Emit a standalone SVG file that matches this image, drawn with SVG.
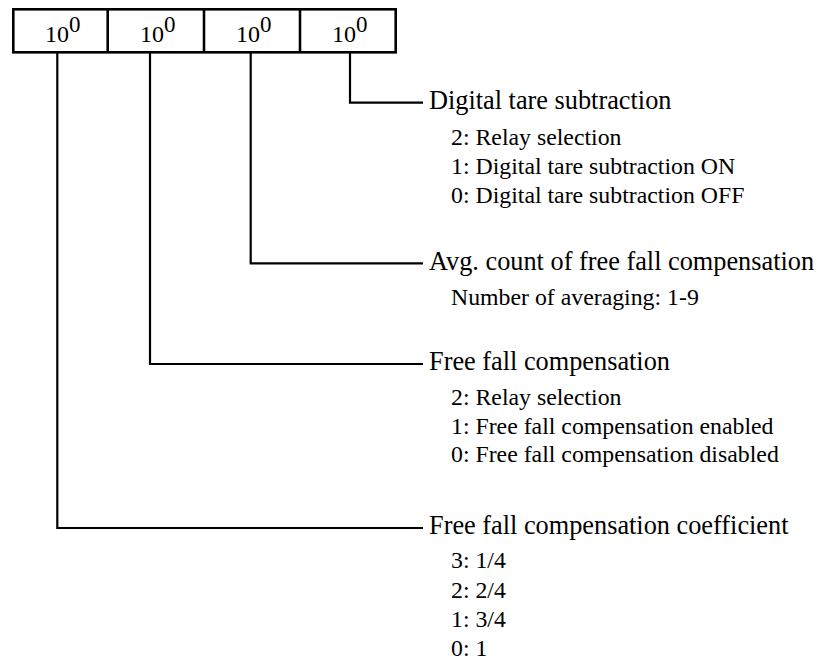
<svg xmlns="http://www.w3.org/2000/svg" width="825" height="662" viewBox="0 0 825 662">
<style>
text{font-family:"Liberation Serif","Times New Roman",serif;fill:#000}
.h{font-size:26.3px}
.s{font-size:23.8px}
.d{font-size:24px}
.sup{font-size:23px}
.ln{fill:none;stroke:#000;stroke-width:2.2}
.bx{fill:#fff;stroke:#000;stroke-width:2.6}
</style>
<rect width="825" height="662" fill="#fff"/>
<g id="register">
<rect class="bx" x="13.3" y="9.3" width="382.4" height="43"/>
<line class="bx" x1="107.7" y1="9.3" x2="107.7" y2="52.3"/>
<line class="bx" x1="204" y1="9.3" x2="204" y2="52.3"/>
<line class="bx" x1="300" y1="9.3" x2="300" y2="52.3"/>
<text class="d" x="45" y="41.7">10<tspan class="sup" dy="-9.5">0</tspan></text>
<text class="d" x="140" y="41.7">10<tspan class="sup" dy="-9.5">0</tspan></text>
<text class="d" x="236" y="41.7">10<tspan class="sup" dy="-9.5">0</tspan></text>
<text class="d" x="332" y="41.7">10<tspan class="sup" dy="-9.5">0</tspan></text>
</g>
<g id="connectors">
<polyline class="ln" points="350,52.3 350,102.7 423,102.7"/>
<polyline class="ln" points="250.7,52.3 250.7,263.3 423,263.3"/>
<polyline class="ln" points="150,52.3 150,364 423,364"/>
<polyline class="ln" points="57.3,52.3 57.3,528 423,528"/>
</g>
<g id="digital-tare">
<text class="h" x="429" y="109.3">Digital tare subtraction</text>
<text class="s" x="451" y="145">2: Relay selection</text>
<text class="s" x="451" y="174">1: Digital tare subtraction ON</text>
<text class="s" x="451" y="203">0: Digital tare subtraction OFF</text>
</g>
<g id="avg-count">
<text class="h" x="429" y="270">Avg. count of free fall compensation</text>
<text class="s" x="451" y="305">Number of averaging: 1-9</text>
</g>
<g id="free-fall">
<text class="h" x="429" y="370">Free fall compensation</text>
<text class="s" x="451" y="405">2: Relay selection</text>
<text class="s" x="451" y="433.5">1: Free fall compensation enabled</text>
<text class="s" x="451" y="462">0: Free fall compensation disabled</text>
</g>
<g id="coefficient">
<text class="h" x="429" y="534">Free fall compensation coefficient</text>
<text class="s" x="451" y="568">3: 1/4</text>
<text class="s" x="451" y="598">2: 2/4</text>
<text class="s" x="451" y="627">1: 3/4</text>
<text class="s" x="451" y="656">0: 1</text>
</g>
</svg>
